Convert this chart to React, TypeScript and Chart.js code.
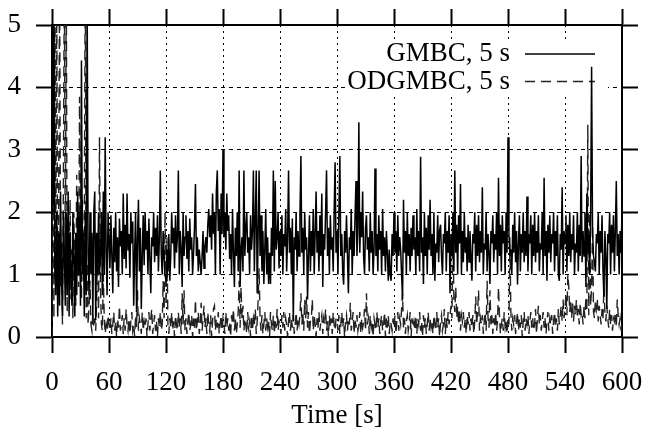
import React, { useEffect, useRef } from "react";
import { Chart, registerables } from "chart.js";

Chart.register(...registerables);

const FONT_FAMILY = "'Liberation Serif', 'Times New Roman', serif";

const TIME_STEP_S = 1;
const X_TICKS = [0, 60, 120, 180, 240, 300, 360, 420, 480, 540, 600];
const Y_TICKS = [0, 1, 2, 3, 4, 5];
const X_TITLE = "Time [s]";
const SERIES_LABELS = ["GMBC, 5 s", "ODGMBC, 5 s"];

// GMBC, 5 s  (one value per second, t = 0 .. 600)
const GMBC = [
  5.5, 2.0, 5.5, 1.0, 0.67, 2.0, 0.33, 1.67, 0.5, 2.33, 1.0, 0.33, 2.0, 1.33, 0.5, 2.0, 0.67, 2.33, 0.33, 1.67,
  1.0, 0.5, 2.0, 1.33, 0.33, 1.67, 0.67, 2.33, 1.0, 2.0, 0.5, 4.43, 1.0, 1.67, 0.33, 2.0, 0.67, 5.5, 1.33, 0.67,
  2.0, 1.0, 1.67, 0.33, 2.0, 2.33, 0.27, 1.67, 1.0, 2.0, 1.0, 1.33, 2.0, 0.67, 2.33, 1.0, 3.2, 1.33, 0.67, 2.0,
  1.55, 1.1, 1.95, 1.3, 0.7, 1.75, 1.2, 2.0, 1.05, 1.6, 0.8, 1.9, 1.45, 1.7, 1.0, 2.3, 1.25, 1.8, 1.1, 2.3,
  1.4, 1.65, 0.95, 2.0, 1.5, 1.85, 0.5, 1.35, 2.0, 0.4, 1.6, 2.2, 1.05, 1.75, 0.45, 1.3, 1.95, 1.15, 2.0, 1.4,
  1.7, 1.0, 1.9, 1.25, 0.7, 1.6, 1.45, 2.0, 1.2, 1.75, 1.3, 1.95, 1.05, 1.55, 2.67, 1.35, 1.0, 1.7, 1.25, 1.0,
  0.9, 1.4, 1.05, 1.65, 0.9, 1.3, 2.0, 1.5, 1.75, 1.1, 1.95, 1.35, 1.6, 2.67, 1.0, 1.7, 1.4, 0.8, 2.0, 1.3,
  1.6, 1.95, 1.25, 1.7, 1.05, 1.9, 1.4, 1.6, 1.0, 1.35, 1.75, 2.45, 1.3, 1.6, 1.05, 1.4, 1.2, 1.0, 1.3, 1.7,
  1.1, 1.45, 1.6, 1.35, 1.8, 2.05, 1.6, 1.95, 1.4, 2.3, 1.65, 2.0, 1.0, 2.33, 2.67, 1.7, 2.05, 1.0, 2.3, 1.65,
  3.0, 1.6, 2.0, 1.4, 2.3, 1.7, 1.95, 1.25, 1.65, 1.0, 2.05, 1.35, 0.8, 1.75, 1.3, 2.0, 1.05, 2.67, 0.8, 1.4,
  1.6, 1.05, 2.67, 1.3, 1.75, 2.0, 1.35, 1.6, 1.0, 1.95, 1.4, 1.7, 2.67, 1.05, 1.9, 2.67, 0.7, 1.65, 2.67, 1.3,
  1.95, 1.05, 1.7, 0.85, 1.4, 2.05, 1.0, 1.6, 0.85, 1.35, 0.85, 1.75, 1.3, 2.67, 1.05, 2.5, 1.4, 1.6, 2.0, 1.1,
  1.7, 1.3, 1.95, 1.0, 1.65, 1.45, 2.05, 1.05, 1.6, 2.67, 1.35, 1.75, 1.0, 1.9, 0.25, 1.6, 1.4, 2.0, 1.05, 1.7,
  1.3, 1.95, 2.9, 1.35, 1.75, 1.0, 2.0, 1.4, 1.6, 0.6, 1.35, 1.95, 1.05, 1.7, 1.3, 2.05, 1.0, 1.65, 2.33, 1.35,
  1.7, 1.05, 1.95, 1.3, 2.3, 0.8, 1.65, 1.4, 2.0, 2.67, 1.3, 1.75, 1.0, 1.95, 1.4, 1.6, 1.05, 2.0, 2.8, 1.35,
  1.7, 1.0, 2.0, 2.9, 1.3, 1.65, 1.05, 0.84, 1.7, 1.35, 1.95, 1.3, 0.7, 1.6, 1.4, 2.05, 1.0, 1.7, 1.3, 1.95,
  2.5, 1.3, 1.7, 3.44, 1.35, 2.0, 1.6, 2.33, 1.3, 1.0, 1.75, 1.95, 1.4, 1.6, 1.05, 2.0, 1.35, 1.7, 1.0, 1.4,
  2.7, 1.3, 1.65, 1.05, 1.95, 1.4, 1.7, 1.0, 2.05, 1.3, 1.6, 1.05, 1.7, 1.35, 0.9, 1.4, 1.0, 0.9, 1.65, 1.3,
  2.0, 1.35, 1.7, 1.05, 1.95, 1.3, 1.6, 1.4, 1.0, 0.6, 2.2, 1.35, 1.7, 1.0, 2.0, 1.3, 1.65, 1.05, 1.75, 1.3,
  1.95, 1.4, 1.6, 1.0, 2.05, 1.3, 1.7, 1.05, 2.89, 1.35, 1.6, 0.85, 2.0, 1.3, 1.75, 1.0, 1.95, 1.4, 2.2, 1.3,
  1.65, 1.0, 2.0, 0.9, 1.5, 1.35, 1.95, 1.2, 1.7, 1.8, 1.3, 1.0, 1.65, 1.5, 2.0, 1.05, 1.7, 1.35, 1.95, 0.7,
  1.65, 1.3, 2.0, 1.05, 2.67, 1.35, 1.8, 1.0, 1.95, 1.5, 2.45, 1.0, 1.7, 1.2, 2.0, 1.35, 1.6, 1.05, 1.8, 1.2,
  1.7, 1.3, 0.9, 1.65, 1.5, 2.0, 1.05, 1.8, 1.3, 1.95, 1.2, 1.7, 1.35, 2.4, 1.0, 1.5, 1.4, 2.0, 1.05, 1.65,
  1.35, 0.85, 1.7, 1.5, 1.95, 1.2, 1.65, 1.4, 2.0, 1.0, 2.55, 1.3, 1.8, 1.05, 1.95, 1.5, 1.7, 1.0, 2.0, 1.35,
  3.2, 1.65, 1.3, 1.4, 1.0, 1.8, 1.35, 2.0, 1.2, 1.7, 0.84, 1.5, 1.95, 1.05, 1.65, 1.35, 2.0, 1.2, 1.7, 1.3,
  2.25, 1.05, 1.65, 1.5, 1.95, 1.0, 1.8, 1.3, 2.0, 1.2, 1.7, 1.35, 1.95, 1.05, 1.5, 1.4, 2.0, 1.0, 2.55, 1.3,
  1.7, 0.9, 1.8, 1.35, 1.95, 1.2, 1.65, 1.5, 2.0, 1.05, 1.7, 1.3, 1.95, 1.0, 0.9, 1.65, 1.4, 2.4, 1.0, 1.7,
  1.5, 1.95, 1.05, 1.8, 1.3, 2.0, 1.2, 1.65, 1.4, 1.95, 1.0, 1.5, 1.35, 2.0, 1.05, 1.8, 1.3, 2.9, 1.2, 1.7,
  1.3, 2.0, 0.8, 2.3, 1.35, 1.65, 1.0, 1.95, 4.33, 1.7, 1.3, 1.2, 1.05, 1.65, 1.5, 2.0, 1.0, 1.7, 1.35, 1.95,
  1.05, 0.65, 1.7, 1.3, 0.45, 1.65, 1.5, 2.0, 1.0, 1.8, 1.35, 1.95, 1.05, 1.7, 2.5, 1.3, 1.65, 1.0, 1.7, 1.35, 2.0,
];

// ODGMBC, 5 s  (one value per second, t = 0 .. 600)
const ODGMBC = [
  0.0, 5.5, 0.3, 6.0, 1.2, 5.5, 0.5, 2.0, 6.0, 0.8, 1.5, 0.2, 2.5, 6.0, 1.0, 6.0, 0.4, 1.8, 0.9, 2.2,
  0.6, 1.4, 0.3, 2.0, 1.1, 0.5, 2.6, 1.2, 0.8, 3.85, 1.5, 0.6, 2.2, 0.9, 1.6, 6.0, 0.3, 1.2, 0.2, 0.5,
  0.9, 0.2, 0.1, 0.4, 0.15, 0.3, 0.1, 0.6, 1.5, 0.3, 3.2, 0.8, 0.2, 0.1, 1.0, 0.3, 0.05, 0.2, 0.1, 0.35,
  0.2,
  0.1, 0.3, 0.05, 0.2, 0.4, 0.1, 0.25, 0.0, 0.3, 0.15, 0.5, 0.1, 0.2, 0.35, 0.05, 0.3, 0.1, 0.45, 0.2, 0.1,
  0.3, 0.05, 0.25, 0.4, 0.1, 0.2, 0.0, 0.35, 0.15, 0.75, 0.1, 0.3, 0.2, 0.05, 0.4, 0.1, 0.25, 0.15, 0.3, 0.0,
  0.2, 0.4, 0.1, 0.3, 0.45, 0.05, 0.2, 0.35, 0.1, 0.25, 0.0, 0.3, 0.15, 0.4, 0.1, 0.2, 0.9, 0.3, 2.0, 0.5,
  1.6, 0.2, 0.05, 0.3, 0.15, 0.4, 0.1, 0.25, 0.0, 0.35, 0.2, 0.1, 0.4, 0.15, 0.3, 0.05, 0.7, 0.2, 0.75, 0.1,
  0.3, 0.05, 0.25, 0.4, 0.1, 0.2, 0.35, 0.0, 0.3, 0.15, 0.6, 0.1, 0.25, 0.4, 0.05, 0.2, 0.55, 0.1, 0.3, 0.5,
  0.15, 0.3, 0.05, 0.4, 0.2, 0.1, 0.35, 0.0, 0.25, 0.45, 0.5, 0.1, 0.3, 0.15, 0.4, 0.05, 0.2, 0.35, 0.1, 0.3,
  0.2, 0.05, 0.4, 0.15, 0.3, 0.1, 0.25, 0.0, 0.35, 0.2, 0.45, 0.1, 0.3, 0.05, 0.2, 0.4, 0.9, 0.15, 0.8, 0.3,
  0.5, 0.1, 0.3, 0.2, 0.05, 0.4, 0.15, 0.25, 0.0, 0.35, 0.1, 0.3, 0.2, 0.45, 0.05, 0.25, 0.6, 1.1, 0.3, 0.1,
  0.35, 0.05, 0.2, 0.4, 0.1, 0.3, 0.15, 0.25, 0.0, 0.4, 0.2, 0.1, 0.35, 0.05, 0.3, 0.15, 0.45, 0.1, 0.25, 0.2,
  0.05, 0.35, 0.15, 0.4, 0.1, 0.3, 0.2, 0.0, 0.25, 0.4, 0.1, 0.3, 0.15, 0.35, 0.05, 0.2, 0.4, 0.1, 0.3, 0.2,
  0.35, 0.7, 0.2, 0.4, 0.1, 0.6, 0.3, 0.65, 0.15, 0.4, 0.05, 0.25, 0.3, 0.6, 0.1, 0.35, 0.2, 0.0, 0.3, 0.15,
  0.4, 0.1, 0.25, 0.35, 0.05, 0.3, 0.2, 0.45, 0.1, 0.25, 0.0, 0.35, 0.15, 0.3, 0.05, 0.4, 0.2, 0.1, 0.3, 0.25,
  0.1, 0.35, 0.05, 0.2, 0.4, 0.15, 0.3, 0.0, 0.25, 0.35, 0.1, 0.3, 0.2, 0.55, 0.1, 0.25, 0.4, 0.05, 0.3, 0.15,
  0.35, 0.1, 0.2, 0.4, 0.05, 0.3, 0.15, 0.25, 0.45, 0.1, 0.7, 0.2, 0.3, 0.05, 0.35, 0.15, 0.25, 0.0, 0.3, 0.2,
  0.1, 0.4, 0.15, 0.3, 0.05, 0.25, 0.35, 0.1, 0.2, 0.4, 0.0, 0.3, 0.15, 0.35, 0.05, 0.25, 0.2, 0.1, 0.3, 0.15,
  0.35, 0.05, 0.25, 0.4, 0.1, 0.3, 0.2, 0.45, 0.7, 0.15, 0.3, 0.05, 0.25, 0.35, 0.1, 0.2, 0.4, 0.0, 0.3, 0.15,
  0.25, 0.1, 0.35, 0.05, 0.3, 0.2, 0.4, 0.1, 0.25, 0.0, 0.35, 0.15, 0.3, 0.05, 0.2, 0.4, 0.1, 0.3, 0.15, 0.25,
  0.05, 0.35, 0.2, 0.1, 0.4, 0.15, 0.3, 0.0, 0.25, 0.35, 0.1, 0.2, 0.45, 0.05, 0.3, 0.15, 0.4, 0.2, 0.35, 0.5,
  0.3, 1.9, 0.6, 0.4, 0.8, 0.3, 0.5, 0.2, 0.45, 0.1, 0.35, 0.25, 0.4, 0.15, 0.3, 0.05, 0.35, 0.2, 0.4, 0.1,
  0.3, 0.15, 0.35, 0.05, 0.25, 0.65, 0.2, 0.4, 0.75, 0.1, 0.3, 0.2, 0.35, 0.05, 0.25, 0.4, 0.1, 0.9, 0.3, 0.15,
  0.75, 0.2, 0.35, 0.05, 0.3, 0.15, 0.4, 0.1, 0.25, 0.8, 0.35, 0.05, 0.2, 0.3, 0.1, 0.4, 0.15, 0.25, 0.05, 0.3,
  0.2, 1.6, 0.4, 0.1, 0.3, 0.2, 0.35, 0.05, 0.25, 0.4, 0.1, 0.3, 0.15, 0.35, 0.0, 0.25, 0.4, 0.1, 0.3, 0.2,
  0.35, 0.05, 0.25, 0.4, 0.15, 0.3, 0.1, 0.2, 0.45, 0.05, 0.3, 0.5, 0.2, 0.35, 0.1, 0.25, 0.4, 0.15, 0.3, 0.05,
  0.25, 0.4, 0.1, 0.3, 0.2, 0.35, 0.05, 0.25, 0.4, 0.15, 0.3, 0.1, 0.45, 0.2, 0.35, 0.5, 0.25, 0.6, 0.3, 0.45,
  0.7, 0.35, 1.0, 0.8, 0.4, 0.6, 0.3, 0.55, 0.25, 0.5, 0.35, 0.6, 0.3, 0.45, 0.2, 0.55, 0.35, 0.4, 0.2, 0.5,
  0.3, 0.65, 0.4, 3.4, 0.35, 2.0, 0.5, 0.8, 1.8, 0.4, 0.3, 0.6, 0.45, 0.6, 0.25, 0.5, 0.35, 0.2, 0.45, 0.3,
  0.8, 0.4, 0.25, 0.5, 0.3, 0.15, 0.45, 0.2, 0.35, 0.1, 0.3, 0.25, 0.4, 0.15, 0.6, 0.35, 0.2, 0.3, 0.1, 0.25,
];

const toPoints = (values: number[]) => values.map((v, i) => ({ x: i * TIME_STEP_S, y: v }));

const setTicks = (values: number[]) => (scale: any) => {
  scale.ticks = values.map((v) => ({ value: v }));
};

const fixSize = (prop: "width" | "height", size: number) => (scale: any) => {
  scale[prop] = size;
  scale.paddingLeft = 0;
  scale.paddingRight = 0;
  scale.paddingTop = 0;
  scale.paddingBottom = 0;
};

const keyPlugin = {
  id: "gnuplotKey",
  beforeDatasetsDraw(chart: any) {
    const { ctx, chartArea } = chart;
    const datasets = chart.data.datasets;
    ctx.save();
    ctx.font = `27px ${FONT_FAMILY}`;
    const textRight = chartArea.right - 112;
    const sampleL = chartArea.right - 97;
    const sampleR = chartArea.right - 27;
    const rowY = [chartArea.top + 29, chartArea.top + 56.5];
    let maxW = 0;
    datasets.forEach((d: any) => {
      maxW = Math.max(maxW, ctx.measureText(d.label).width);
    });
    const boxL = textRight - maxW - 2;
    const boxR = chartArea.right - 14;
    const boxT = chartArea.top + 15;
    const boxB = chartArea.top + 72;
    ctx.fillStyle = "#fff";
    ctx.fillRect(boxL, boxT, boxR - boxL, boxB - boxT);
    datasets.forEach((d: any, i: number) => {
      ctx.fillStyle = "#000";
      ctx.textAlign = "right";
      ctx.textBaseline = "middle";
      ctx.fillText(d.label, textRight, rowY[i]);
      ctx.beginPath();
      ctx.strokeStyle = d.borderColor;
      ctx.lineWidth = d.borderWidth;
      ctx.setLineDash(d.borderDash || []);
      ctx.moveTo(sampleL, rowY[i]);
      ctx.lineTo(sampleR, rowY[i]);
      ctx.stroke();
    });
    ctx.restore();
  },
};

export default function App() {
  const canvasRef = useRef<HTMLCanvasElement | null>(null);

  useEffect(() => {
    if (!canvasRef.current) return;
    const tickFont = { size: 27, family: FONT_FAMILY };
    const chart = new Chart(canvasRef.current, {
      type: "line",
      data: {
        datasets: [
          {
            label: SERIES_LABELS[0],
            data: toPoints(GMBC),
            borderColor: "#000",
            borderWidth: 1.5,
            pointRadius: 0,
            tension: 0,
            xAxisID: "x",
            yAxisID: "y",
          },
          {
            label: SERIES_LABELS[1],
            data: toPoints(ODGMBC),
            borderColor: "#222",
            borderWidth: 1.4,
            borderDash: [10, 6],
            pointRadius: 0,
            tension: 0,
            xAxisID: "x",
            yAxisID: "y",
          },
        ],
      },
      options: {
        responsive: false,
        animation: false,
        devicePixelRatio: 1,
        layout: { padding: 0 },
        plugins: { legend: { display: false }, tooltip: { enabled: false } },
        scales: {
          x: {
            type: "linear",
            position: "bottom",
            min: 0,
            max: 600,
            afterBuildTicks: setTicks(X_TICKS),
            afterFit: fixSize("height", 97),
            grid: {
              color: "#000",
              lineWidth: 1,
              drawTicks: true,
              tickLength: 16,
              tickWidth: 2,
              tickColor: "#000",
            },
            border: { display: true, color: "#000", width: 2, dash: [2, 4] },
            ticks: { color: "#000", font: tickFont, padding: 14, maxRotation: 0, autoSkip: false },
            title: {
              display: true,
              text: X_TITLE,
              color: "#000",
              font: tickFont,
              padding: { top: 0, bottom: 2 },
            },
          },
          x2: {
            type: "linear",
            position: "top",
            min: 0,
            max: 600,
            afterBuildTicks: setTicks(X_TICKS),
            afterFit: fixSize("height", 25),
            grid: {
              drawOnChartArea: false,
              drawTicks: true,
              tickLength: 16,
              tickWidth: 2,
              tickColor: "#000",
            },
            border: { display: true, color: "#000", width: 2 },
            ticks: { display: false },
          },
          y: {
            type: "linear",
            position: "left",
            min: 0,
            max: 5,
            afterBuildTicks: setTicks(Y_TICKS),
            afterFit: fixSize("width", 52),
            grid: {
              color: "#000",
              lineWidth: 1,
              drawTicks: true,
              tickLength: 16,
              tickWidth: 2,
              tickColor: "#000",
            },
            border: { display: true, color: "#000", width: 2, dash: [4, 4] },
            ticks: { color: "#000", font: tickFont, padding: 15 },
          },
          y2: {
            type: "linear",
            position: "right",
            min: 0,
            max: 5,
            afterBuildTicks: setTicks(Y_TICKS),
            afterFit: fixSize("width", 23),
            grid: {
              drawOnChartArea: false,
              drawTicks: true,
              tickLength: 16,
              tickWidth: 2,
              tickColor: "#000",
            },
            border: { display: true, color: "#000", width: 2 },
            ticks: { display: false },
          },
        },
      },
      plugins: [keyPlugin],
    } as any);
    return () => chart.destroy();
  }, []);

  return (
    <div style={{ position: "absolute", left: 0, top: 0, width: 645, height: 434, background: "#fff" }}>
      <canvas ref={canvasRef} width={645} height={434} style={{ width: 645, height: 434, display: "block" }} />
    </div>
  );
}
